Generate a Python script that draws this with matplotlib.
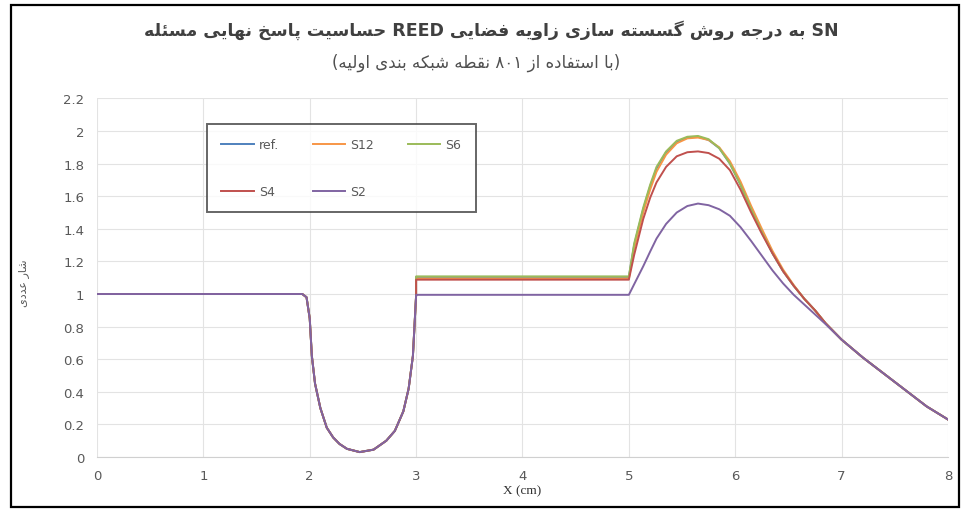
import matplotlib
matplotlib.use('Agg')
import matplotlib.pyplot as plt
from matplotlib.patches import Rectangle

# x positions (cm) shared by all five runs; x=3 appears twice for the jump
x_cm = [0.0, 1.93, 1.97, 2.00, 2.02, 2.05, 2.10, 2.16, 2.22, 2.28, 2.35, 2.47,
        2.60, 2.72, 2.80, 2.88, 2.93, 2.97, 3.00, 3.00, 5.00, 5.05, 5.135,
        5.20, 5.26, 5.35, 5.45, 5.55, 5.65, 5.75, 5.85, 5.95, 6.05, 6.15,
        6.25, 6.35, 6.45, 6.55, 6.65, 6.75, 6.85, 7.0, 7.2, 7.4, 7.6, 7.8, 8.0]

# absorber region 0..3 cm is the same for every quadrature
dip = [1.0, 1.0, 0.98, 0.85, 0.62, 0.45, 0.30, 0.18, 0.12, 0.08, 0.05, 0.03,
       0.045, 0.10, 0.16, 0.28, 0.42, 0.62, 0.99]
tail = [0.72, 0.61, 0.51, 0.41, 0.31, 0.23]

flux_ref = dip + [1.105, 1.105, 1.30, 1.52, 1.66, 1.77, 1.87, 1.935, 1.96, 1.965,
                  1.945, 1.895, 1.80, 1.67, 1.52, 1.38, 1.25, 1.14, 1.05, 0.97,
                  0.90, 0.82] + tail
flux_s12 = dip + [1.095, 1.095, 1.28, 1.50, 1.64, 1.75, 1.855, 1.925, 1.955, 1.96,
                  1.945, 1.90, 1.815, 1.69, 1.54, 1.40, 1.265, 1.15, 1.055, 0.97,
                  0.90, 0.82] + tail
flux_s6 = dip + [1.108, 1.108, 1.31, 1.53, 1.67, 1.78, 1.875, 1.94, 1.965, 1.97,
                 1.95, 1.895, 1.80, 1.67, 1.52, 1.38, 1.25, 1.14, 1.05, 0.97,
                 0.90, 0.82] + tail
flux_s4 = dip + [1.088, 1.088, 1.24, 1.46, 1.59, 1.685, 1.78, 1.845, 1.87, 1.875,
                 1.865, 1.83, 1.76, 1.64, 1.50, 1.37, 1.25, 1.14, 1.05, 0.97,
                 0.90, 0.82] + tail
flux_s2 = dip + [0.995, 0.995, 1.06, 1.17, 1.26, 1.34, 1.43, 1.50, 1.54, 1.555,
                 1.545, 1.52, 1.48, 1.41, 1.325, 1.235, 1.145, 1.065, 0.995, 0.935,
                 0.875, 0.815] + tail

labels = ['ref.', 'S12', 'S6', 'S4', 'S2']
colors = ['#4F81BD', '#F79646', '#9BBB59', '#C0504D', '#8064A2']

title1 = 'حساسیت پاسخ نهایی مسئله REED به درجه روش گسسته سازی زاویه فضایی SN'
title2 = '(با استفاده از ۸۰۱ نقطه شبکه بندی اولیه)'
ylab = 'شار عددی'

# minimal Persian shaping: (isolated, final, initial, medial)
FORMS = {
    'ا': (0xFE8D, 0xFE8E, None, None), 'ب': (0xFE8F, 0xFE90, 0xFE91, 0xFE92),
    'ت': (0xFE95, 0xFE96, 0xFE97, 0xFE98), 'ج': (0xFE9D, 0xFE9E, 0xFE9F, 0xFEA0),
    'ح': (0xFEA1, 0xFEA2, 0xFEA3, 0xFEA4), 'خ': (0xFEA5, 0xFEA6, 0xFEA7, 0xFEA8),
    'د': (0xFEA9, 0xFEAA, None, None), 'ر': (0xFEAD, 0xFEAE, None, None),
    'ز': (0xFEAF, 0xFEB0, None, None), 'س': (0xFEB1, 0xFEB2, 0xFEB3, 0xFEB4),
    'ش': (0xFEB5, 0xFEB6, 0xFEB7, 0xFEB8), 'ض': (0xFEBD, 0xFEBE, 0xFEBF, 0xFEC0),
    'ط': (0xFEC1, 0xFEC2, 0xFEC3, 0xFEC4), 'ع': (0xFEC9, 0xFECA, 0xFECB, 0xFECC),
    'ف': (0xFED1, 0xFED2, 0xFED3, 0xFED4), 'ق': (0xFED5, 0xFED6, 0xFED7, 0xFED8),
    'ل': (0xFEDD, 0xFEDE, 0xFEDF, 0xFEE0), 'م': (0xFEE1, 0xFEE2, 0xFEE3, 0xFEE4),
    'ن': (0xFEE5, 0xFEE6, 0xFEE7, 0xFEE8), 'ه': (0xFEE9, 0xFEEA, 0xFEEB, 0xFEEC),
    'و': (0xFEED, 0xFEEE, None, None), 'ئ': (0xFE89, 0xFE8A, 0xFE8B, 0xFE8C),
    'پ': (0xFB56, 0xFB57, 0xFB58, 0xFB59), 'گ': (0xFB92, 0xFB93, 0xFB94, 0xFB95),
    'ک': (0xFB8E, 0xFB8F, 0xFB90, 0xFB91), 'ی': (0xFBFC, 0xFBFD, 0xFBFE, 0xFBFF),
}
FA_DIGITS = '۰۱۲۳۴۵۶۷۸۹'


def shape_word(w):
    out = []
    for i, c in enumerate(w):
        if c not in FORMS:
            out.append(c)
            continue
        prev = w[i - 1] if i > 0 else ''
        nxt = w[i + 1] if i + 1 < len(w) else ''
        join_prev = prev in FORMS and FORMS[prev][2] is not None
        join_next = nxt in FORMS and FORMS[c][2] is not None
        f = FORMS[c]
        if join_prev and join_next:
            out.append(chr(f[3]))
        elif join_prev:
            out.append(chr(f[1]))
        elif join_next:
            out.append(chr(f[2]))
        else:
            out.append(chr(f[0]))
    if any(c in FORMS for c in w):
        out = out[::-1]
    return ''.join(out)


def fa(s):
    # left-to-right paragraph: each Persian run is laid out right to left
    head = s[:len(s) - len(s.lstrip('('))]
    end = s[len(s.rstrip(')')):]
    body = s[len(head):len(s) - len(end)]
    parts, run = [], []
    for w in body.split(' '):
        if any(c in FORMS or c in FA_DIGITS for c in w):
            run.append(shape_word(w))
        else:
            if run:
                parts.append(' '.join(run[::-1]))
                run = []
            parts.append(w)
    if run:
        parts.append(' '.join(run[::-1]))
    return head + ' '.join(parts) + end


plt.rcParams['font.family'] = ['DejaVu Sans']

fig = plt.figure(figsize=(9.63, 5.10), dpi=100)
ax = fig.add_axes([0.1007, 0.102, 0.8837, 0.703])

series = [flux_ref, flux_s12, flux_s6, flux_s4, flux_s2]
lines = []
for y, lab, c in zip(series, labels, colors):
    ln, = ax.plot(x_cm, y, color=c, lw=1.4, label=lab)
    lines.append(ln)

ax.set_xlim(0, 8)
ax.set_ylim(0, 2.2)
ax.set_xticks(range(0, 9))
ax.set_yticks([i * 0.2 for i in range(12)])
ax.set_yticklabels(['0', '0.2', '0.4', '0.6', '0.8', '1', '1.2', '1.4', '1.6',
                    '1.8', '2', '2.2'])
ax.grid(True, color='#E3E3E3', lw=0.8)
ax.set_axisbelow(True)
for side in ['top', 'right', 'left']:
    ax.spines[side].set_visible(False)
ax.spines['bottom'].set_color('#D0D0D0')
ax.tick_params(length=0, labelsize=9.5, colors='#595959', pad=9)

ax.set_xlabel('X (cm)', family='Liberation Serif', fontsize=9.5,
              color='#303030', labelpad=1)
fig.text(0.024, 0.445, fa(ylab), rotation=90, fontsize=8, color='#595959',
         ha='center', va='center')

fig.text(0.51, 0.94, fa(title1), fontsize=12.5, fontweight='bold',
         color='#404040', ha='center', va='center')
fig.text(0.494, 0.877, fa(title2), fontsize=12, color='#505050',
         ha='center', va='center')

# legend reads row by row: ref., S12, S6 / S4, S2
order = [0, 3, 1, 4, 2]
leg = fig.legend([lines[i] for i in order], [labels[i] for i in order],
                 loc='upper left', bbox_to_anchor=(0.215, 0.755), ncol=3,
                 fontsize=9, frameon=True, fancybox=False, handlelength=2.6,
                 handletextpad=0.4, columnspacing=2.7, labelspacing=2.7,
                 borderpad=1.15, borderaxespad=0)
leg.get_frame().set_edgecolor('#404040')
leg.get_frame().set_linewidth(1.4)
for t in leg.get_texts():
    t.set_color('#595959')

# outer frame of the figure
fig.patches.append(Rectangle((0.011, 0.004), 0.985, 0.985, transform=fig.transFigure,
                             fill=False, edgecolor='black', lw=1.6))

fig.savefig('out.png', dpi=100, facecolor='white')
